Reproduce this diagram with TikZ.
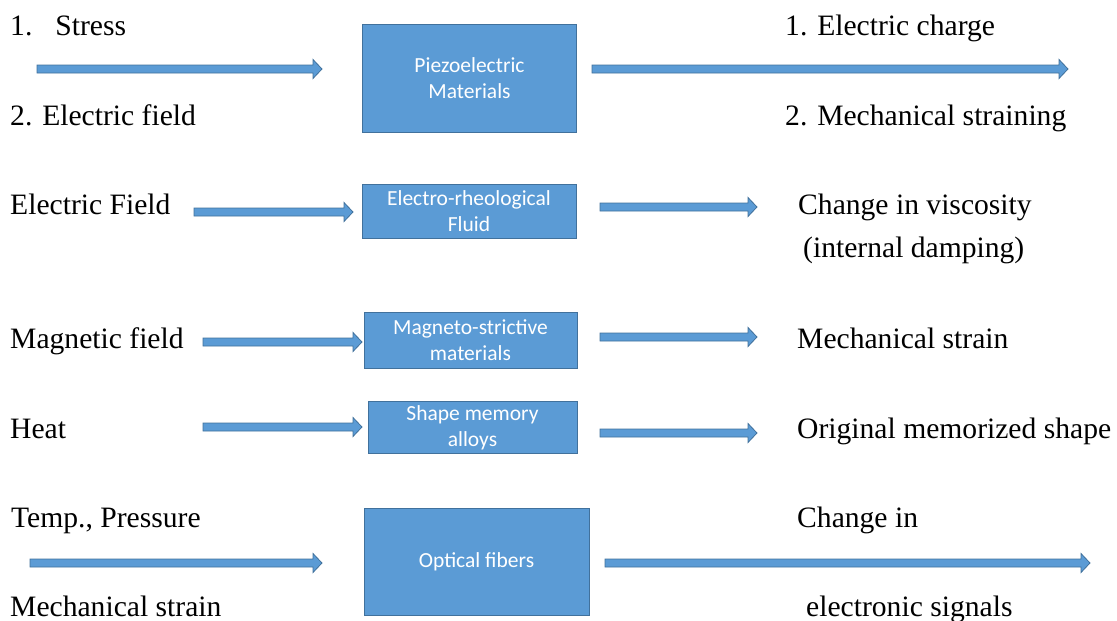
\documentclass[tikz,border=0pt]{standalone}
\usepackage{fontspec}
\setmainfont{Liberation Serif}
\newfontfamily\boxfont{Carlito}
\usetikzlibrary{calc}
\definecolor{bfill}{HTML}{5B9BD5}
\definecolor{bline}{HTML}{41719C}
\newcommand\blockarr[2]{\filldraw[fill=bfill,draw=bline,line width=0.8pt,line join=miter]
 ($(#1)+(0,4)$) -- ($(#2)+(-9,4)$) -- ($(#2)+(-9,9.5)$) -- (#2) -- ($(#2)+(-9,-9.5)$) -- ($(#2)+(-9,-4)$) -- ($(#1)+(0,-4)$) -- cycle;}
\begin{document}
\begin{tikzpicture}[x=1pt,y=-1pt,
  lbl/.style={anchor=base west,inner sep=0pt,font=\fontsize{29.6}{35}\selectfont},
  mat/.style={draw=bline,fill=bfill,line width=0.8pt,text=white,align=center,inner sep=0pt,
    font=\boxfont\fontsize{21.5}{26}\selectfont}]
\useasboundingbox (0,0) rectangle (1117,621);
% boxes
\node[mat,minimum width=214pt,minimum height=108pt] (piezo) at (469.5,78) {Piezoelectric\\Materials};
\node[mat,minimum width=214pt,minimum height=54pt] (er) at (469,211) {Electro-rheological\\Fluid};
\node[mat,minimum width=213pt,minimum height=56pt] (ms) at (470.5,340) {Magneto-strictive\\materials};
\node[mat,minimum width=209pt,minimum height=52pt] (sma) at (472.5,427.5) {Shape memory\\alloys};
\node[mat,minimum width=225pt,minimum height=107pt] (of) at (476.5,561.5) {Optical fibers};
% labels
\node[lbl] (stress) at (10,35) {1.\hspace{23pt}Stress};
\node[lbl] (efield) at (10,125) {2. Electric field};
\node[lbl] (echarge) at (785,35) {1. Electric charge};
\node[lbl] (mstrain) at (785,125) {2. Mechanical straining};
\node[lbl] (ef2) at (10,214) {Electric Field};
\node[lbl] (visc) at (798,214) {Change in viscosity};
\node[lbl] (damp) at (803,257) {(internal damping)};
\node[lbl] (mag) at (10,348) {Magnetic field};
\node[lbl] (mstr2) at (797,348) {Mechanical strain};
\node[lbl] (heat) at (10,438) {Heat};
\node[lbl] (orig) at (797,438) {Original memorized shape};
\node[lbl] (temp) at (11,527) {Temp., Pressure};
\node[lbl] (mstr3) at (10,616) {Mechanical strain};
\node[lbl] (chg) at (797,527) {Change in};
\node[lbl] (esig) at (806,616) {electronic signals};
% arrow ends
\coordinate (a1s) at (37,69);   \coordinate (a1e) at (322,69);
\coordinate (b1s) at (592,69);  \coordinate (b1e) at (1068,69);
\coordinate (a2s) at (194,212); \coordinate (a2e) at (353,212);
\coordinate (b2s) at (600,207); \coordinate (b2e) at (757,207);
\coordinate (a3s) at (203,342); \coordinate (a3e) at (362,342);
\coordinate (b3s) at (600,337); \coordinate (b3e) at (757,337);
\coordinate (a4s) at (203,427); \coordinate (a4e) at (362,427);
\coordinate (b4s) at (600,433); \coordinate (b4e) at (757,433);
\coordinate (a5s) at (30,563);  \coordinate (a5e) at (322,563);
\coordinate (b5s) at (605,563); \coordinate (b5e) at (1090,563);
\blockarr{a1s}{a1e}\blockarr{b1s}{b1e}
\blockarr{a2s}{a2e}\blockarr{b2s}{b2e}
\blockarr{a3s}{a3e}\blockarr{b3s}{b3e}
\blockarr{a4s}{a4e}\blockarr{b4s}{b4e}
\blockarr{a5s}{a5e}\blockarr{b5s}{b5e}
\end{tikzpicture}
\end{document}
